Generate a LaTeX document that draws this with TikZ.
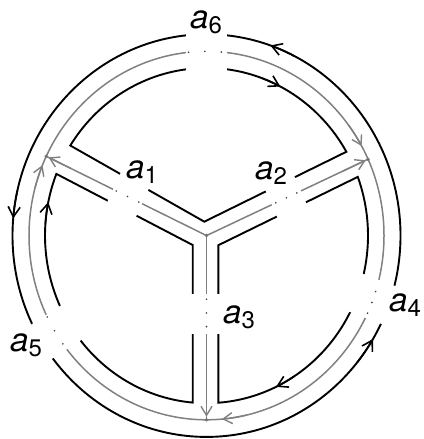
\documentclass[tikz,border=0pt]{standalone}
\usepackage{fontspec}
\setmainfont{TeX Gyre Heros}
\usetikzlibrary{arrows.meta}
\newcommand{\edgelab}[1]{{\fontsize{33}{33}\selectfont\itshape a}\raisebox{-5pt}{\fontsize{24}{24}\selectfont #1}}
\begin{document}
\begin{tikzpicture}[x=1pt,y=1pt,yscale=1.0378,
  gline/.style={draw=black!50, line width=1.5pt},
  bline/.style={draw=black, line width=1.9pt},
  gtip/.style={draw=black!50, line width=1.4pt, -{Straight Barb[length=9pt,width=11pt]}},
  btip/.style={draw=black, line width=1.6pt, -{Straight Barb[length=10pt,width=12pt]}},
  gapband/.style={fill=white},
  tdot/.style={fill=black!75, circle, inner sep=0pt, minimum size=1.8pt},
  vdot/.style={fill=black!55, circle, inner sep=0pt, minimum size=3.8pt},
  lab/.style={inner sep=0pt}
]
\useasboundingbox (-206.5,-196) rectangle (216.5,227);
\def\Rg{177.5}\def\Ro{194}\def\Ri{161.5}
\coordinate (O) at (0,0);
\coordinate (L) at (154.5:\Rg);
\coordinate (Rv) at (24.5:\Rg);
\coordinate (B) at (270:\Rg);
% gray ribbon graph
\draw[gline] (O) circle[radius=\Rg];
\draw[gline] (O) -- (L);
\draw[gline] (O) -- (Rv);
\draw[gline] (O) -- (B);
% black boundary curves
\draw[bline] (O) circle[radius=\Ro];
\draw[bline] (-2.2,13.4) -- (147.5:\Ri) arc[start angle=147.5, end angle=30, radius=\Ri] -- cycle;
\draw[bline] (-13.8,-9.1) -- (158.4:\Ri) arc[start angle=158.4, end angle=265.1, radius=\Ri] -- cycle;
\draw[bline] (11.8,-9.3) -- (274.2:\Ri) arc[start angle=274.2, end angle=380.5, radius=\Ri] -- cycle;
% gray arrows
\draw[gtip] (154.5:150) -- (154.5:175);
\draw[gtip] (24.5:150) -- (24.5:175);
\draw[gtip] (270:150) -- (270:174.5);
\draw[gtip] (37:\Rg) arc[start angle=37, end angle=29.1, radius=\Rg];
\draw[gtip] (165:\Rg) arc[start angle=165, end angle=157.5, radius=\Rg];
\draw[gtip] (-77:\Rg) arc[start angle=-77, end angle=-85, radius=\Rg];
% black arrows
\draw[btip] (63:\Ro) arc[start angle=63, end angle=70.8, radius=\Ro];
\draw[btip] (167:\Ro) arc[start angle=167, end angle=175.1, radius=\Ro];
\draw[btip] (321:\Ro) arc[start angle=321, end angle=329.1, radius=\Ro];
\draw[btip] (70:\Ri) arc[start angle=70, end angle=62.8, radius=\Ri];
\draw[btip] (176:\Ri) arc[start angle=176, end angle=168.5, radius=\Ri];
\draw[btip] (303:\Ri) arc[start angle=303, end angle=295.5, radius=\Ri];
% breaks
\fill[gapband, rotate=154.5] (71.5,-22) rectangle (103.5,22);
\fill[gapband, rotate=24.5] (71.7,-22) rectangle (103.7,22);
\fill[gapband, rotate=270] (56,-22) rectangle (95,22);
\fill[gapband, rotate=90] (150,-20.5) rectangle (205,20.5);
\fill[gapband, rotate=211.8] (150,-19.5) rectangle (205,19.5);
\fill[gapband, rotate=-20.2] (150,-19.5) rectangle (205,19.5);
\foreach \p [count=\i] in {(154.5:75),(154.5:87.5),(154.5:100),
  (24.5:76.2),(24.5:87.7),(24.5:99.2),
  (270:61.3),(270:74.5),(270:87.7),
  (95.8:\Rg),(90.5:\Rg),(85.2:\Rg),
  (206.2:\Rg),(211.1:\Rg),(216:\Rg),
  (-17.7:\Rg),(-21.3:\Rg),(-24.9:\Rg)}
  \node[tdot] (d\i) at \p {};
% vertices
\node[vdot] (vO) at (O) {};
\node[vdot] (vL) at (L) {};
\node[vdot] (vR) at (Rv) {};
\node[vdot] (vB) at (B) {};
% labels
\node[lab] (l1) at (-64.5,61.3) {\edgelab{1}};
\node[lab] (l2) at (64.5,60.3) {\edgelab{2}};
\node[lab] (l3) at (32.5,-78.5) {\edgelab{3}};
\node[lab] (l4) at (198.5,-66.9) {\edgelab{4}};
\node[lab] (l5) at (-180.5,-105.4) {\edgelab{5}};
\node[lab] (l6) at (-0.5,205.8) {\edgelab{6}};
\end{tikzpicture}
\end{document}
